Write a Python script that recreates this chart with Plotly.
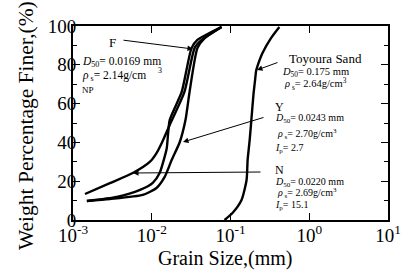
import plotly.graph_objects as go

# ---- data ----
f_x = [0.0015, 0.0036, 0.0071, 0.0103, 0.0126, 0.0142, 0.0155, 0.0169, 0.024, 0.032, 0.038, 0.077]
f_y = [9.8, 11.9, 15.5, 19.1, 24.2, 30.9, 37.0, 51.5, 66.0, 88.6, 92.8, 99.5]

y_x = [0.0015, 0.00294, 0.0077, 0.0115, 0.0146, 0.0179, 0.0227, 0.0268, 0.0302, 0.038, 0.047, 0.077]
y_y = [9.8, 10.8, 12.9, 16.5, 22.2, 30.9, 40.2, 51.5, 66.0, 88.6, 93.8, 99.5]

n_x = [0.00142, 0.00294, 0.00575, 0.00943, 0.0115, 0.0134, 0.0169, 0.026, 0.035, 0.043, 0.077]
n_y = [13.4, 19.0, 24.2, 29.9, 34.5, 39.7, 49.0, 66.0, 88.6, 92.8, 99.5]

t_x = [0.084, 0.106, 0.138, 0.160, 0.165, 0.175, 0.184, 0.195, 0.205, 0.212, 0.232, 0.254, 0.330, 0.417]
t_y = [0.0, 3.6, 10.3, 20.6, 31.0, 41.0, 51.5, 64.0, 72.0, 77.0, 82.0, 86.0, 94.0, 99.5]

x_tickvals = [0.001, 0.01, 0.1, 1, 10]
x_ticktext = ["10<sup>-3</sup>", "10<sup>-2</sup>", "10<sup>-1</sup>", "10<sup>0</sup>", "10<sup>1</sup>"]
y_tickvals = [0, 20, 40, 60, 80, 100]

FONT = "Liberation Serif"

fig = go.Figure()
for xs, ys in [(f_x, f_y), (y_x, y_y), (n_x, n_y), (t_x, t_y)]:
    fig.add_trace(go.Scatter(x=xs, y=ys, mode="lines",
                             line=dict(color="black", width=2.4, shape="spline", smoothing=0.6),
                             showlegend=False, hoverinfo="skip"))

L, R, T, B = 73, 25, 26, 53
PW, PH = 413 - L - R, 273 - T - B


def px(x):
    return (x - L) / PW


def py(y):
    return (273 - B - y) / PH


def lx(x):
    return -3 + (x - 73) / 78.75


def ly(y):
    return (220 - y) / 1.94


ann = []


def txt(s, x, y, size=10.5, anchor="left"):
    ann.append(dict(text=s, x=px(x), y=py(y), xref="paper", yref="paper",
                    xanchor=anchor, yanchor="middle", showarrow=False,
                    font=dict(family=FONT, size=size, color="black")))


def arrow(x0, y0, x1, y1):
    ann.append(dict(text="", x=lx(x1), y=ly(y1), ax=lx(x0), ay=ly(y0),
                    xref="x", yref="y", axref="x", ayref="y",
                    showarrow=True, arrowhead=2, arrowsize=1.1, arrowwidth=1,
                    arrowcolor="black"))


D50 = "<i>D</i><sub>50</sub>"
RHO = "<i>ρ</i><sub> s</sub>"
IP = "<i>I</i><sub>p</sub>"

txt("F", 112, 42, 13, "center")
txt(D50 + "= 0.0169 mm", 80, 62, 11.5)
txt(RHO + "= 2.14g/cm", 80, 76, 11.5)
txt("3", 156, 70, 8)
txt("NP", 80, 90, 9)

txt("Toyoura Sand", 287, 59, 13)
txt(D50 + "= 0.175 mm", 280, 72)
txt(RHO + "= 2.64g/cm<sup>3</sup>", 282, 84)

txt("Y", 273, 107, 12)
txt(D50 + "= 0.0243 mm", 273, 119, 10)
txt(RHO + "= 2.70g/cm<sup>3</sup>", 275, 134, 10)
txt(IP + "= 2.7", 273, 148, 10)

txt("N", 273, 170, 12)
txt(D50 + "= 0.0220 mm", 273, 182, 10)
txt(RHO + "= 2.69g/cm<sup>3</sup>", 275, 193, 10)
txt(IP + "= 15.1", 273, 205, 10)

arrow(122, 40, 193, 49)
arrow(279, 62, 257, 70)
arrow(265, 117, 183, 142)
arrow(262, 172, 133, 173)

# axis titles
ann.append(dict(text="Grain Size,(mm)", x=px(225), y=py(258), xref="paper", yref="paper",
                xanchor="center", yanchor="middle", showarrow=False,
                font=dict(family=FONT, size=20, color="black")))
ann.append(dict(text="Weight Percentage Finer,(%)", x=px(26), y=py(126), xref="paper", yref="paper",
                xanchor="center", yanchor="middle", showarrow=False, textangle=-90,
                font=dict(family=FONT, size=21.5, color="black")))

fig.update_layout(
    width=413, height=273,
    margin=dict(l=L, r=R, t=T, b=B),
    paper_bgcolor="white", plot_bgcolor="white",
    font=dict(family=FONT, size=19, color="black"),
    annotations=ann,
)
fig.update_xaxes(type="log", range=[-3, 1], tickvals=x_tickvals, ticktext=x_ticktext,
                 ticks="inside", ticklen=7, tickwidth=1, tickcolor="black",
                 showline=True, linecolor="black", linewidth=2, mirror="ticks",
                 showgrid=False, zeroline=False, automargin=False, ticklabelstandoff=-3,
                 tickfont=dict(family=FONT, size=19, color="black"))
fig.update_yaxes(range=[0, 100], tickvals=y_tickvals,
                 ticks="inside", ticklen=7, tickwidth=1, tickcolor="black",
                 minor=dict(dtick=10, ticks="inside", ticklen=4, tickcolor="black"),
                 showline=True, linecolor="black", linewidth=2, mirror="ticks",
                 showgrid=False, zeroline=False, automargin=False, ticklabelstandoff=-9,
                 tickfont=dict(family=FONT, size=19, color="black"))

fig.write_html("out.html", config={"displayModeBar": False},
               post_script="document.body.style.margin='0';document.body.style.overflow='hidden';")
